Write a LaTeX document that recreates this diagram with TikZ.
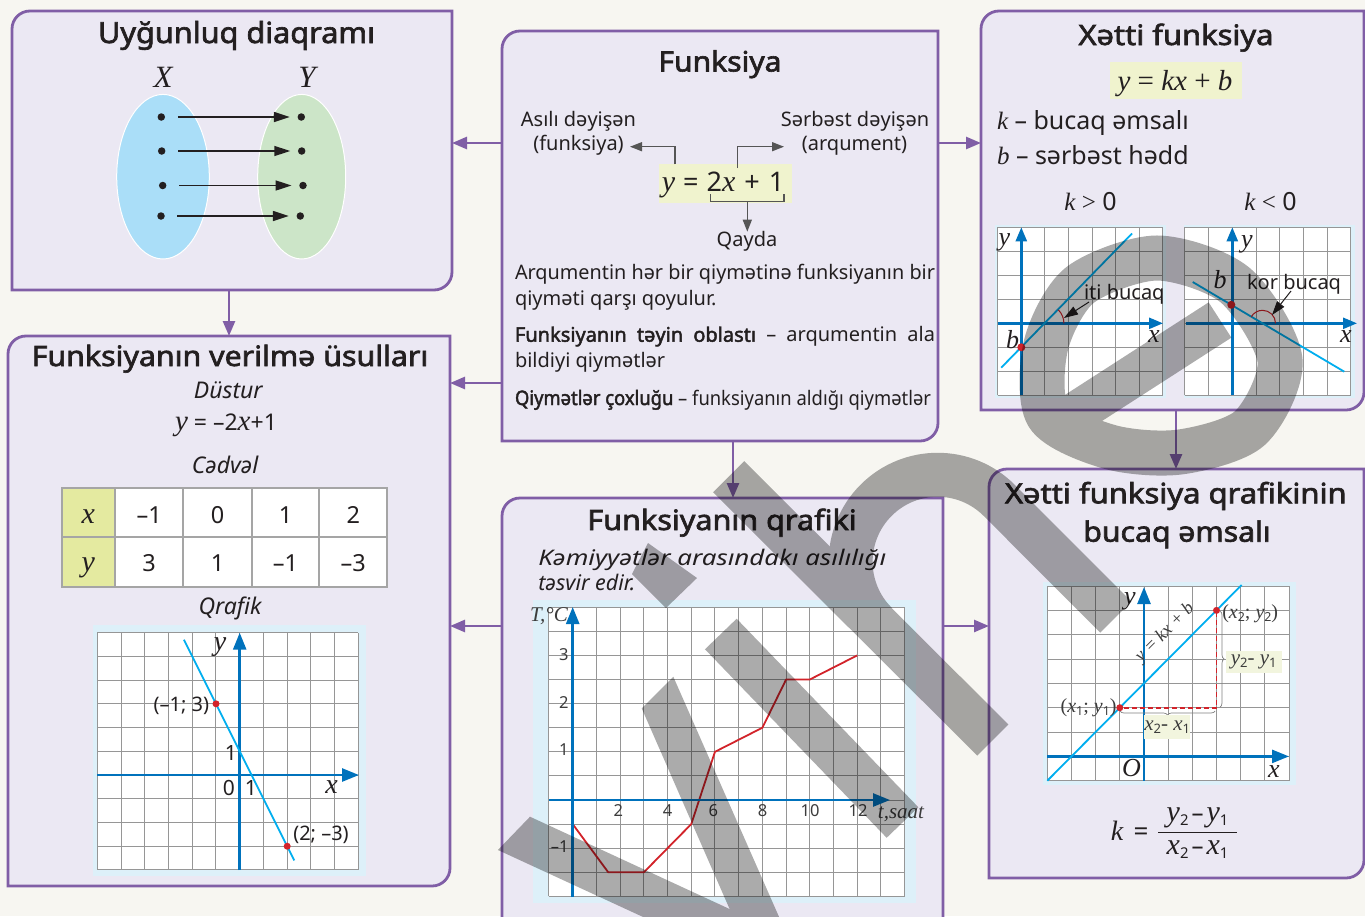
\documentclass[tikz,border=0pt]{standalone}
\usepackage{fontspec}
\setmainfont{Noto Sans}[AutoFakeBold=2.2]
\newfontfamily\ser{Liberation Serif}
\usepackage{graphicx}
\usetikzlibrary{arrows.meta,shapes.geometric,decorations.pathreplacing}
\definecolor{bg}{RGB}{247,246,241}
\definecolor{panelbg}{RGB}{235,232,243}
\definecolor{pur}{RGB}{128,94,166}
\definecolor{ink}{RGB}{35,31,32}
\definecolor{gridc}{RGB}{150,150,150}
\definecolor{axc}{RGB}{0,114,188}
\definecolor{linec}{RGB}{0,174,239}
\definecolor{redc}{RGB}{210,35,42}
\definecolor{hl}{RGB}{240,243,206}
\definecolor{hltwo}{RGB}{242,245,222}
\definecolor{lb}{RGB}{221,240,249}
\definecolor{ellblue}{RGB}{170,222,248}
\definecolor{ellgreen}{RGB}{204,229,200}
\definecolor{tabg}{RGB}{228,234,160}
\definecolor{tabb}{RGB}{165,165,165}
\definecolor{arr}{RGB}{85,85,85}
\definecolor{lab}{RGB}{60,60,60}
\newcommand\fs[1]{\fontsize{#1}{#1}\selectfont}
\newcommand\mi[1]{{\ser\itshape #1}}
\newcommand\sbs[1]{\raisebox{-0.35ex}{\scalebox{0.62}{\normalfont #1}}}
\newcommand\fitw[2]{\resizebox{#1}{\height}{#2}}
\newlength\fitlen
\newcommand\fitline[2]{\settowidth\fitlen{#2}\ifdim\fitlen>#1\relax\resizebox{#1}{\height}{#2}\else\makebox[#1][s]{#2}\fi}
\newcommand\panelshape[1]{%
 \path[panel] ([yshift=-18pt]#1.north west) .. controls ([yshift=-8pt]#1.north west) and ([xshift=8pt]#1.north west) .. ([xshift=18pt]#1.north west) -- (#1.north east) -- ([yshift=18pt]#1.south east) .. controls ([yshift=8pt]#1.south east) and ([xshift=-8pt]#1.south east) .. ([xshift=-18pt]#1.south east) -- (#1.south west) -- cycle;}
\tikzset{
 pn/.style={rectangle, inner sep=0pt, outer sep=0pt, draw=none},
 panel/.style={fill=panelbg, draw=pur, line width=2.8pt},
 conn/.style={draw=pur, line width=2.6pt, -{Triangle[length=15pt,width=12pt]}},
 txt/.style={inner sep=0pt, outer sep=0pt, text=ink, anchor=base},
 txtl/.style={txt, anchor=base west},
 txtr/.style={txt, anchor=base east},
 gl/.style={draw=gridc, line width=1pt},
 axs/.style={draw=axc, line width=2.4pt, -{Triangle[length=14pt,width=11pt]}},
 axl/.style={draw=axc, line width=2.6pt, -{Triangle[length=17pt,width=13pt]}},
 fline/.style={draw=linec, line width=1.8pt},
 rdot/.style={circle, fill=redc, inner sep=0pt, minimum size=8pt},
 bdot/.style={circle, fill=ink, inner sep=0pt, minimum size=7.5pt},
 maparr/.style={draw=ink, line width=1.5pt, -{Triangle[length=16pt,width=10pt]}, shorten <=12.5pt, shorten >=7.5pt},
 garr/.style={draw=arr, line width=1.4pt, -{Triangle[length=12pt,width=9pt]}},
 barr/.style={draw=ink, line width=1pt, -{Triangle[length=14pt,width=9pt]}},
 hlbox/.style={fill=hl, inner sep=0pt},
 lblbox/.style={fill=hltwo, inner sep=0pt, text=lab},
 arcr/.style={draw=redc, line width=1pt},
 brc/.style={draw=gray, line width=0.7pt, decorate, decoration={brace, amplitude=4pt}},
}
\begin{document}
\begin{tikzpicture}[x=1pt,y=-1pt]
\useasboundingbox (0,0) rectangle (1365,916);
\fill[bg] (0,0) rectangle (1365,916);
% panels
\node[pn, minimum width=440pt, minimum height=279pt] (p1) at (232,150.5) {};
\node[pn, minimum width=436pt, minimum height=410pt] (p2) at (720,236) {};
\node[pn, minimum width=383pt, minimum height=399pt] (p3) at (1172.5,210.5) {};
\node[pn, minimum width=442pt, minimum height=550pt] (p4) at (229,611) {};
\node[pn, minimum width=441pt, minimum height=442pt] (p5) at (722.5,719) {};
\node[pn, minimum width=375pt, minimum height=409pt] (p6) at (1176.5,673.5) {};
\panelshape{p1}\panelshape{p2}\panelshape{p3}\panelshape{p4}\panelshape{p5}\panelshape{p6}
% connectors
\coordinate (h143) at (0,143); \coordinate (h383) at (0,383); \coordinate (h626) at (0,626);
\coordinate (v229) at (229,0); \coordinate (v733) at (733,0); \coordinate (v1176) at (1176,0);
\draw[conn] (p2.west |- h143) -- (p1.east |- h143);
\draw[conn] (p2.east |- h143) -- (p3.west |- h143);
\draw[conn] (p2.west |- h383) -- (p4.east |- h383);
\draw[conn] (p2.south -| v733) -- (p5.north -| v733);
\draw[conn] (p1.south -| v229) -- (p4.north -| v229);
\draw[conn] (p3.south -| v1176) -- (p6.north -| v1176);
\draw[conn] (p5.west |- h626) -- (p4.east |- h626);
\draw[conn] (p5.east |- h626) -- (p6.west |- h626);

% ===== P1
\node[txt, font=\fs{29}\bfseries] (t1) at (236.5,43) {\fitw{277pt}{Uyğunluq diaqramı}};
\node[txt, font=\fs{31}\ser\itshape] (lx) at (163,87) {X};
\node[txt, font=\fs{31}\ser\itshape] (ly) at (307,87) {Y};
\node[ellipse, fill=ellblue, draw=white, line width=1pt, minimum width=92.6pt, minimum height=164.6pt, inner sep=0pt] (ex) at (163,176.7) {};
\node[ellipse, fill=ellgreen, draw=white, line width=1pt, minimum width=88pt, minimum height=164.6pt, inner sep=0pt] (eyy) at (301.7,176.7) {};
\node[bdot] (a1) at (161.3,117) {}; \node[bdot] (b1) at (301.3,117) {};
\node[bdot] (a2) at (161.7,151) {}; \node[bdot] (b2) at (301.7,151) {};
\node[bdot] (a3) at (162.7,185.5) {}; \node[bdot] (b3) at (303,185.5) {};
\node[bdot] (a4) at (161,216) {}; \node[bdot] (b4) at (300.3,216) {};
\draw[maparr] (a1) -- (b1); \draw[maparr] (a2) -- (b2);
\draw[maparr] (a3) -- (b3); \draw[maparr] (a4) -- (b4);

% ===== P2
\node[txt, font=\fs{28}\bfseries] (t2) at (720,71.5) {\fitw{123pt}{Funksiya}};
\node[txt, font=\fs{20}] (asl) at (578.5,126) {Asılı dəyişən};
\node[txt, font=\fs{20}] (fnk) at (578.5,150.5) {(funksiya)};
\node[txt, font=\fs{20}] (srb) at (855,126) {Sərbəst dəyişən};
\node[txt, font=\fs{20}] (arq) at (854.5,150.5) {(arqument)};
\node[hlbox, minimum width=132.7pt, minimum height=38.4pt] (hla) at (725.7,183.5) {};
\node[txt, font=\fs{27}] (eq2) at (723,191.5) {\mi{\fs{30}y}\hspace{8pt}=\hspace{8pt}2\mi{\fs{30}x}\hspace{9pt}+\hspace{9pt}1};
\coordinate (ys) at (675,164.3); \coordinate (ye) at (630,146.7);
\coordinate (xs) at (737.3,168); \coordinate (xe) at (784,146.7);
\draw[garr] (ys) |- (ye);
\draw[garr] (xs) |- (xe);
\coordinate (br1) at (710.7,194.3); \coordinate (br2) at (784,194.3);
\draw[draw=arr, line width=1.2pt] (br1) -- ++(0,7.4) -| (br2);
\coordinate (qs) at (747.3,201.7); \coordinate (qe) at (747.3,231.7);
\draw[garr] (qs) -- (qe);
\node[txt, font=\fs{20}] (qay) at (747,246.7) {Qayda};
\node[txtl, font=\fs{20}] (l1) at (515,279.3) {\fitline{420pt}{Arqumentin hər bir qiymətinə funksiyanın bir}};
\node[txtl, font=\fs{20}] (l2) at (515,305) {qiyməti qarşı qoyulur.};
\node[txtl, font=\fs{20}] (l3) at (515,341.7) {\fitline{420pt}{\textbf{Funksiyanın təyin oblastı} – arqumentin ala}};
\node[txtl, font=\fs{20}] (l4) at (515,367.3) {bildiyi qiymətlər};
\node[txtl, font=\fs{20}] (l5) at (515,405) {\fitline{416pt}{\textbf{Qiymətlər çoxluğu} – funksiyanın aldığı qiymətlər}};

% ===== P3
\node[txt, font=\fs{28}\bfseries] (t3) at (1176,45) {\fitw{195pt}{Xətti funksiya}};
\node[hlbox, minimum width=131.7pt, minimum height=37.6pt] (hlb) at (1175.8,80.5) {};
\node[txt, font=\fs{29}\ser] (eq3) at (1175,90) {\textit{y} = \textit{kx} + \textit{b}};
\node[txtl, font=\fs{25}] (kl) at (997,129) {\mi{k} – bucaq əmsalı};
\node[txtl, font=\fs{25}] (bl) at (997,164) {\mi{b} – sərbəst hədd};
\node[txt, font=\fs{25}] (kg) at (1090.5,210) {\mi{k} {\ser >} 0};
\node[txt, font=\fs{25}] (kls) at (1270.5,210) {\mi{k} {\ser <} 0};
% left grid
\fill[lb] (995,225) rectangle (1165.7,398.3);
\begin{scope}[shift={(1021.3,323.3)}, x=23.6pt, y=24pt]
 \fill[white] (-1,-3) rectangle (6,4);
 \draw[gl, step=1] (-1,-3) grid (6,4);
\end{scope}
\draw[axs] (997.7,323.3) -- (1163,323.3);
\draw[axs] (1021.3,395.3) -- (1021.3,227.3);
\draw[fline] (1001.2,367.7) -- (1132,233.5);
\draw[arcr] (1063.9,323.3) arc[start angle=0, end angle=-45, radius=19];
\node[rdot] (bd1) at (1021.3,347.3) {};
\node[txt, font=\fs{26}\ser\itshape] (gy1) at (1004.5,245) {y};
\node[txt, font=\fs{26}\ser\itshape] (gx1) at (1154,342) {x};
\node[txt, font=\fs{26}\ser\itshape] (gb1) at (1012.5,348) {b};
\node[txtl, font=\fs{20}] (iti) at (1084,299) {iti bucaq};
\coordinate (ia) at (1089,302); \coordinate (ib) at (1064,318);
\draw[barr] (ia) -- (ib);
% right grid
\fill[lb] (1184.3,225) rectangle (1355,398.3);
\begin{scope}[shift={(1232.3,323.3)}, x=23.7pt, y=24pt]
 \fill[white] (-2,-3) rectangle (5,4);
 \draw[gl, step=1] (-2,-3) grid (5,4);
\end{scope}
\draw[axs] (1185.7,323.3) -- (1357,323.3);
\draw[axs] (1232.3,395.3) -- (1232.3,227.3);
\draw[fline] (1192.7,282) -- (1344.3,371.7);
\draw[arcr] (1275.5,323.3) arc[start angle=0, end angle=-149.4, radius=13];
\node[rdot] (bd2) at (1231.3,304.8) {};
\node[txt, font=\fs{26}\ser\itshape] (gy2) at (1247,247) {y};
\node[txt, font=\fs{26}\ser\itshape] (gx2) at (1346,342) {x};
\node[txt, font=\fs{26}\ser\itshape] (gb2) at (1220,288) {b};
\node[txtl, font=\fs{20}] (kor) at (1247,289) {kor bucaq};
\coordinate (ka) at (1291,291); \coordinate (kb) at (1272,315);
\draw[barr] (ka) -- (kb);

% ===== P4
\node[txt, font=\fs{28}\bfseries] (t4) at (230,366) {\fitw{396.6pt}{Funksiyanın verilmə üsulları}};
\node[txt, font=\fs{23}\itshape] (dus) at (228.3,398.3) {Düstur};
\node[txt, font=\fs{23}] (f4) at (226,430) {\mi{\fs{29}y} = –2\mi{\fs{29}x}+1};
\node[txt, font=\fs{23}\itshape] (cdv) at (225,473.3) {Cədvəl};
\fill[tabg] (61.7,487.7) rectangle (115,586.7);
\fill[white] (115,487.7) rectangle (387.3,586.7);
\draw[draw=tabb, line width=2pt] (61.7,487.7) rectangle (387.3,586.7);
\foreach \cx in {115,183.3,251.7,319.3} \draw[draw=tabb, line width=2pt] (\cx,487.7) -- (\cx,586.7);
\draw[draw=tabb, line width=2pt] (61.7,537.3) -- (387.3,537.3);
\node[txt, font=\fs{30}\ser\itshape] (tx) at (88.3,523.3) {x};
\node[txt, font=\fs{23.5}] (c11) at (149.2,523.3) {–1};
\node[txt, font=\fs{23.5}] (c12) at (217.5,523.3) {0};
\node[txt, font=\fs{23.5}] (c13) at (285.5,523.3) {1};
\node[txt, font=\fs{23.5}] (c14) at (353.3,523.3) {2};
\node[txt, font=\fs{30}\ser\itshape] (ty) at (88.3,571.7) {y};
\node[txt, font=\fs{23.5}] (c21) at (149.2,571.7) {3};
\node[txt, font=\fs{23.5}] (c22) at (217.5,571.7) {1};
\node[txt, font=\fs{23.5}] (c23) at (285.5,571.7) {–1};
\node[txt, font=\fs{23.5}] (c24) at (353.3,571.7) {–3};
\node[txt, font=\fs{23}\itshape] (qrf) at (230,614) {Qrafik};
\fill[lb] (92.7,625) rectangle (366,876);
\begin{scope}[shift={(239.7,775)}, x=23.73pt, y=23.73pt]
 \fill[white] (-6,-4) rectangle (5,6);
 \draw[gl, step=1] (-6,-4) grid (5,6);
\end{scope}
\draw[axl] (97.3,775) -- (359,775);
\draw[axl] (239.7,870) -- (239.7,632.7);
\draw[fline] (183.9,639.7) -- (294.3,860.4);
\node[rdot, minimum size=7pt] (pa) at (216,703.8) {};
\node[rdot, minimum size=7pt] (pb) at (287.2,846.2) {};
\node[txtr, font=\fs{20}] (lpa) at (209,711.7) {(–1; 3)};
\node[txtl, font=\fs{20}] (lpb) at (293.3,840) {(2; –3)};
\node[txt, font=\fs{21}] (o1) at (231,760) {1};
\node[txt, font=\fs{21}] (o0) at (229,795) {0};
\node[txt, font=\fs{21}] (o2) at (251,795) {1};
\node[txt, font=\fs{28}\ser\itshape] (gy4) at (220,650) {y};
\node[txt, font=\fs{28}\ser\itshape] (gx4) at (331.5,793) {x};

% ===== P5
\node[txt, font=\fs{28}\bfseries] (t5) at (722,530) {\fitw{269.4pt}{Funksiyanın qrafiki}};
\node[txtl, font=\fs{21.5}\itshape] (k1) at (538.3,565) {\fitw{348pt}{Kəmiyyətlər arasındakı asılılığı}};
\node[txtl, font=\fs{21.5}\itshape] (k2) at (538.3,590) {təsvir edir.};
\fill[lb] (533.3,600) rectangle (916,903);
\begin{scope}[shift={(572.7,800)}, x=23.71pt, y=24.1pt]
 \fill[white] (-1,-4) rectangle (14,8);
 \draw[gl, step=1] (-1,-4) grid (14,8);
 \draw[draw=redc, line width=1.8pt, line join=round] (0,-1) -- (1.5,-3) -- (3,-3) -- (5,-1) -- (6,2) -- (8,3) -- (9,5) -- (10,5) -- (12,6);
\end{scope}
\draw[axl] (549.3,800) -- (890,800);
\draw[axl] (572.7,897) -- (572.7,607);
\foreach \tx/\tl in {618.3/2,667.5/4,713.3/6,762.5/8,810/10,858/12}
  \node[txt, font=\fs{16.5}, text=lab] at (\tx,816.7) {\tl};
\node[txt, font=\fs{16.5}, text=lab] (y3) at (563.8,660) {3};
\node[txt, font=\fs{16.5}, text=lab] (y2) at (563.8,708.3) {2};
\node[txt, font=\fs{16.5}, text=lab] (y1) at (563.8,755.7) {1};
\node[txt, font=\fs{16.5}, text=lab] (ym) at (559.7,852.3) {–1};
\node[txt, font=\fs{21}\ser\itshape, text=lab] (tc) at (549,621.7) {T,°C};
\node[txt, font=\fs{21}\ser\itshape, text=lab] (ts) at (901,818) {t,saat};

% ===== P6
\node[txt, font=\fs{28}\bfseries] (t6a) at (1175.8,503.3) {\fitw{341.7pt}{Xətti funksiya qrafikinin}};
\node[txt, font=\fs{28}\bfseries] (t6b) at (1177,541.7) {\fitw{187.4pt}{bucaq əmsalı}};
\fill[lb] (1043.3,581.7) rectangle (1295.7,785);
\begin{scope}[shift={(1144,756.4)}, x=24.17pt, y=24.34pt]
 \fill[white] (-4,-1) rectangle (6,7);
 \draw[gl, step=1] (-4,-1) grid (6,7);
\end{scope}
\draw[axl] (1047.3,756.4) -- (1289,756.4);
\draw[axl] (1144,780.7) -- (1144,587);
\draw[fline] (1047.3,780.7) -- (1241.6,585);
\coordinate (q3) at (1216.5,707.7);
\node[rdot, minimum size=7pt] (q1) at (1119.8,707.7) {};
\node[rdot, minimum size=7pt] (q2) at (1216.5,610.4) {};
\draw[draw=redc, line width=1.6pt, dash pattern=on 5pt off 3pt] (q1) -- (q3) -- (q2);
\draw[brc] (1220,611) -- (1220,707);
\draw[brc] (1215,711) -- (1120,711);
\node[lblbox, font=\fs{21}\ser\itshape, minimum width=56pt, minimum height=22.6pt] (dyb) at (1253.7,662) {y\sbs{2}- y\sbs{1}};
\node[lblbox, font=\fs{21}\ser\itshape, minimum width=45.7pt, minimum height=24.3pt] (dxb) at (1167.2,727.2) {x\sbs{2}- x\sbs{1}};
\node[txtr, font=\fs{20}\ser, text=lab] (lq1) at (1116.5,712) {(\textit{x}\sbs{1}; \textit{y}\sbs{1})};
\node[txtl, font=\fs{20}\ser, text=lab] (lq2) at (1222.3,618) {(\textit{x}\sbs{2}; \textit{y}\sbs{2})};
\node[txt, font=\fs{18}\ser\itshape, text=lab, rotate=45, anchor=center] (lk) at (1165,633) {y = kx + b};
\node[txt, font=\fs{26}\ser\itshape] (gy6) at (1130,604.5) {y};
\node[txt, font=\fs{26}\ser\itshape] (go6) at (1131.5,776.7) {O};
\node[txt, font=\fs{26}\ser\itshape] (gx6) at (1274,777) {x};
\node[txt, font=\fs{28}\ser\itshape] (kk) at (1117,840) {k};
\node[txt, font=\fs{26}] (keq) at (1141,840) {=};
\coordinate (fb1) at (1158.3,832.3); \coordinate (fb2) at (1236.7,832.3);
\draw[draw=ink, line width=1.3pt] (fb1) -- (fb2);
\node[txt, font=\fs{24}] (num) at (1197.5,821) {\mi{\fs{30}y}\sbs{2}\hspace{3pt}–\hspace{3pt}\mi{\fs{30}y}\sbs{1}};
\node[txt, font=\fs{24}] (den) at (1197.5,854) {\mi{\fs{30}x}\sbs{2}\hspace{3pt}–\hspace{3pt}\mi{\fs{30}x}\sbs{1}};

% ===== watermark
\begin{scope}[transparency group, opacity=0.33]
 \draw[black, line width=44pt] (728.6,476.7) -- (992.8,740);
 \draw[black, line width=44pt] (876.1,623.3) arc[start angle=135, end angle=315, radius=87] -- (1115.8,617);
 \draw[black, line width=44pt] (720.8,634) -- (902.5,822.5);
 \fill[black] (641.7,708.3) -- (673.3,676.7) -- (787,935) -- (741,935) -- cycle;
 \fill[black] (497.9,850) -- (530,816.7) -- (775,930) -- (671.3,930) -- cycle;
 \fill[black] (648,543) -- (697,578) -- (666,608) -- (632,574) -- cycle;
 \draw[black, line width=45pt] plot[smooth cycle] coordinates {(1048,415) (1046,345) (1080,285) (1157,258) (1235,285) (1280,360) (1250,428) (1180,452) (1110,447)};
 \draw[black, line width=42pt] (1057,425) -- (1220,320);
\end{scope}
\end{tikzpicture}
\end{document}
